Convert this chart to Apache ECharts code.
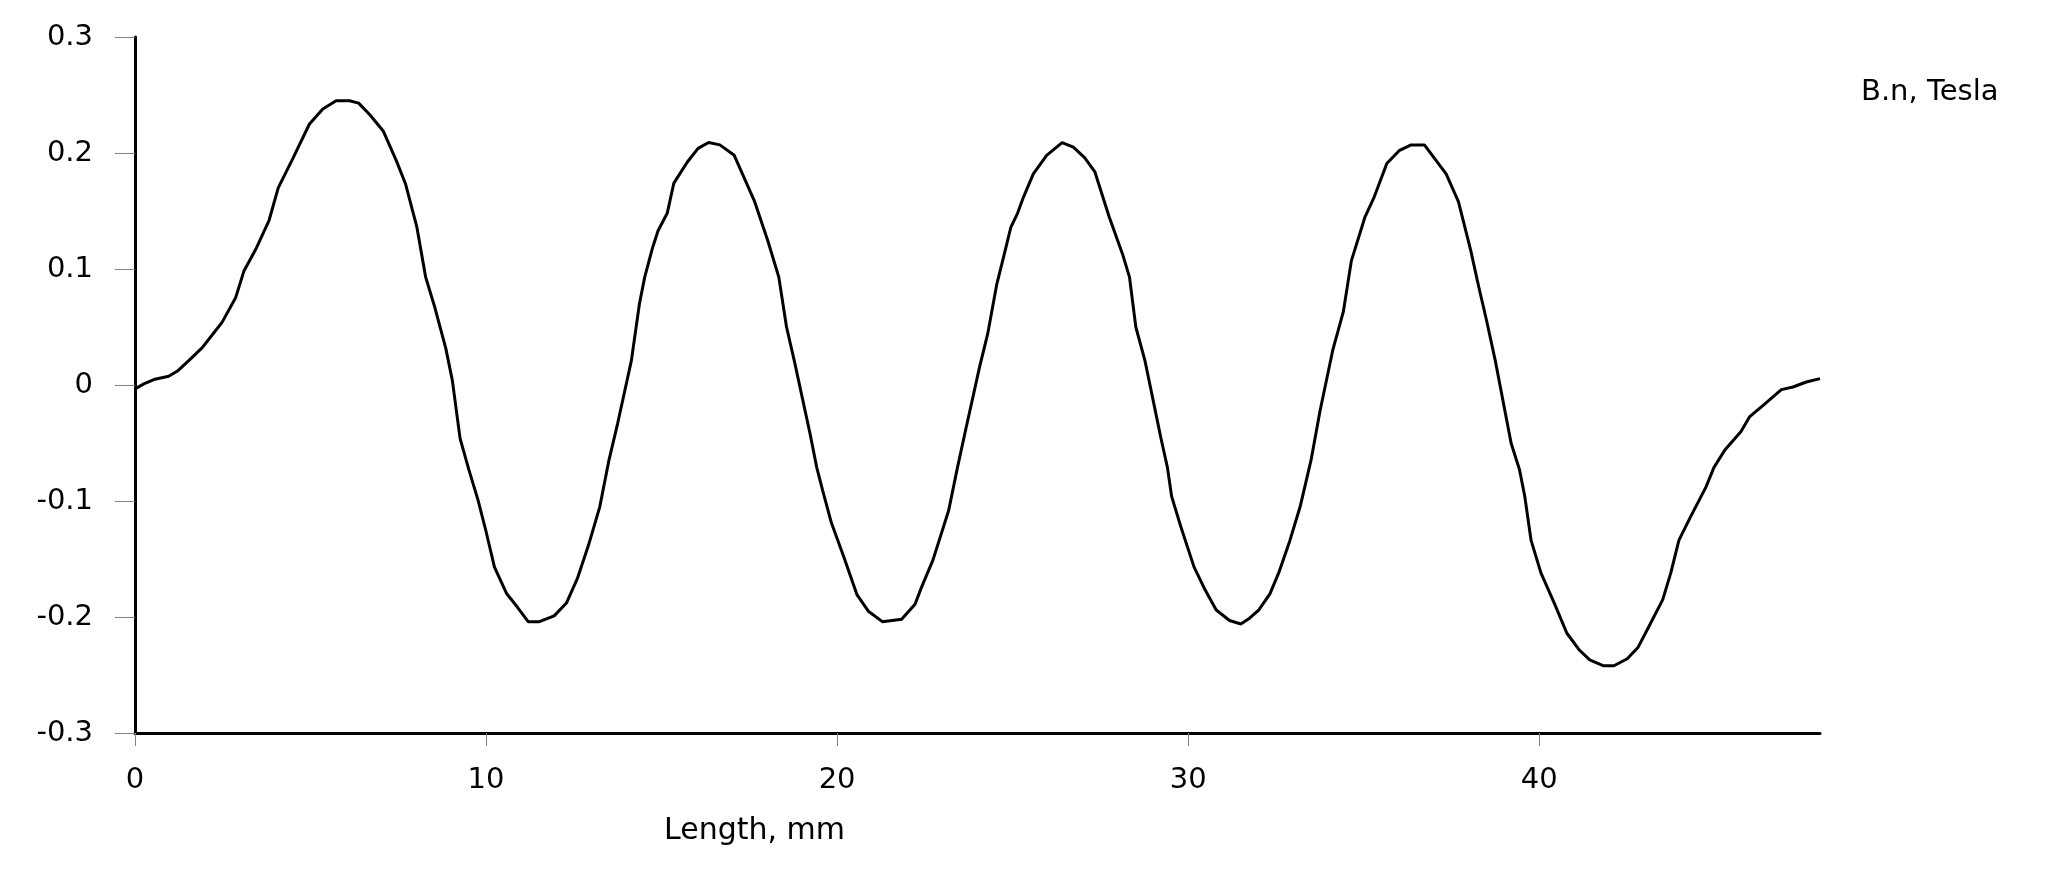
<!DOCTYPE html>
<html>
<head>
<meta charset="utf-8">
<script src="https://cdn.jsdelivr.net/npm/echarts@6/dist/echarts.min.js"></script>
<style>
html,body{margin:0;padding:0;background:#fff;}
#chart{width:2048px;height:872px;}
</style>
</head>
<body>
<div id="chart"></div>
<script>
const seriesName = 'B.n, Tesla';
const xAxisTitle = 'Length, mm';
const xTickValues = [0, 10, 20, 30, 40];
const yTickValues = [-0.3, -0.2, -0.1, 0, 0.1, 0.2, 0.3];

const lengthMm = [
  0, 0.25, 0.57, 0.96, 1.21, 1.53, 1.91, 2.17, 2.48, 2.87, 3.10, 3.44, 3.82, 4.08, 4.46, 4.97, 5.35, 5.73, 6.11, 6.37, 6.69, 7.07, 7.45, 7.71, 8.03, 8.28, 8.54, 8.85, 9.04,
  9.26, 9.51, 9.77, 9.99, 10.24, 10.59, 10.88, 11.20, 11.52, 11.94, 12.29, 12.60, 12.92, 13.24, 13.50, 13.75,
  14.14, 14.37, 14.52, 14.75, 14.90, 15.16, 15.35, 15.73, 16.04, 16.34, 16.66, 17.07, 17.64, 18.02, 18.34, 18.56, 18.78,
  19.23, 19.42, 19.59, 19.84, 20.19, 20.57, 20.89, 21.29, 21.84, 22.22, 22.41, 22.73, 23.18, 23.43, 23.66,
  24.06, 24.29, 24.55, 24.74, 24.95, 25.14, 25.31, 25.59, 25.97, 26.41, 26.73, 27.05, 27.34, 27.75, 28.13, 28.33, 28.51, 28.77,
  29.22, 29.41, 29.53, 29.79, 30.17, 30.49, 30.80, 31.18, 31.50, 31.75, 32.01, 32.33, 32.58, 32.90, 33.19, 33.50, 33.76,
  34.12, 34.42, 34.65, 35.04, 35.30, 35.66, 36.01, 36.35, 36.73, 37.35, 37.70, 38.05, 38.28, 38.50, 38.75,
  39.20, 39.44, 39.59, 39.77, 40.05, 40.43, 40.79, 41.13, 41.44, 41.82, 42.13, 42.51, 42.82, 43.13, 43.52, 43.75, 43.98, 44.29, 44.75, 44.98, 45.29, 45.75, 45.99, 46.38, 46.66, 46.90, 47.23, 47.61, 48.00
];

const bnTesla = [
  -0.0034, 0.001, 0.005, 0.0075, 0.012, 0.021, 0.032, 0.042, 0.054, 0.0755, 0.098, 0.117, 0.142, 0.170, 0.193, 0.225, 0.238, 0.245, 0.245, 0.243, 0.233, 0.219, 0.193, 0.173, 0.136, 0.093, 0.067, 0.032, 0.004,
  -0.046, -0.073, -0.099, -0.125, -0.157, -0.180, -0.191, -0.204, -0.204, -0.199, -0.188, -0.167, -0.138, -0.105, -0.065, -0.033,
  0.021, 0.070, 0.093, 0.119, 0.133, 0.148, 0.174, 0.192, 0.204, 0.209, 0.207, 0.198, 0.159, 0.125, 0.093, 0.050, 0.021,
  -0.042, -0.071, -0.091, -0.119, -0.148, -0.181, -0.195, -0.204, -0.202, -0.189, -0.174, -0.151, -0.108, -0.071, -0.039,
  0.0156, 0.044, 0.087, 0.110, 0.136, 0.148, 0.162, 0.182, 0.198, 0.209, 0.205, 0.196, 0.184, 0.145, 0.113, 0.093, 0.050, 0.021,
  -0.045, -0.071, -0.096, -0.122, -0.157, -0.177, -0.194, -0.203, -0.206, -0.201, -0.194, -0.180, -0.162, -0.134, -0.105, -0.065, -0.022,
  0.030, 0.063, 0.107, 0.145, 0.162, 0.191, 0.202, 0.207, 0.207, 0.182, 0.158, 0.116, 0.0845, 0.0558, 0.021,
  -0.050, -0.073, -0.096, -0.134, -0.162, -0.188, -0.214, -0.228, -0.237, -0.242, -0.242, -0.236, -0.226, -0.208, -0.185, -0.162, -0.134, -0.115, -0.088, -0.071, -0.056, -0.040, -0.0275, -0.0175, -0.0103, -0.004, -0.0017, 0.0026, 0.0055
];

const points = lengthMm.map((x, i) => [x, bnTesla[i]]);
const FONT = 'DejaVu Sans';

const chart = echarts.init(document.getElementById('chart'), null, {renderer: 'canvas'});
chart.setOption({
  backgroundColor: '#ffffff',
  animation: false,
  textStyle: {fontFamily: FONT, color: '#000'},
  title: {
    text: xAxisTitle,
    left: 664,
    top: 816,
    padding: 0,
    textStyle: {fontFamily: FONT, fontSize: 30, fontWeight: 'normal', color: '#000'}
  },
  legend: {
    data: [seriesName],
    icon: 'none',
    itemWidth: 0,
    left: 1851,
    top: 73,
    textStyle: {fontFamily: FONT, fontSize: 29, color: '#000'}
  },
  grid: {left: 135, right: 228, top: 37, bottom: 139, containLabel: false},
  xAxis: {
    type: 'value',
    min: 0,
    max: 48,
    interval: 10,
    splitLine: {show: false},
    axisLine: {onZero: false, lineStyle: {color: '#000', width: 3}},
    axisTick: {show: true, length: 13, customValues: xTickValues, lineStyle: {color: '#808080', width: 1}},
    axisLabel: {customValues: xTickValues, margin: 33, fontSize: 29, fontFamily: FONT, color: '#000'}
  },
  yAxis: {
    type: 'value',
    min: -0.3,
    max: 0.3,
    interval: 0.1,
    splitLine: {show: false},
    axisLine: {show: true, onZero: false, lineStyle: {color: '#000', width: 3}},
    axisTick: {show: true, length: 20, customValues: yTickValues, lineStyle: {color: '#808080', width: 1}},
    axisLabel: {customValues: yTickValues, margin: 42, fontSize: 29, fontFamily: FONT, color: '#000',
      formatter: v => String(Math.round(v * 10) / 10)}
  },
  series: [{
    name: seriesName,
    type: 'line',
    data: points,
    showSymbol: false,
    symbol: 'none',
    smooth: false,
    lineStyle: {color: '#000', width: 3},
    itemStyle: {color: '#000'}
  }]
});
</script>
</body>
</html>
